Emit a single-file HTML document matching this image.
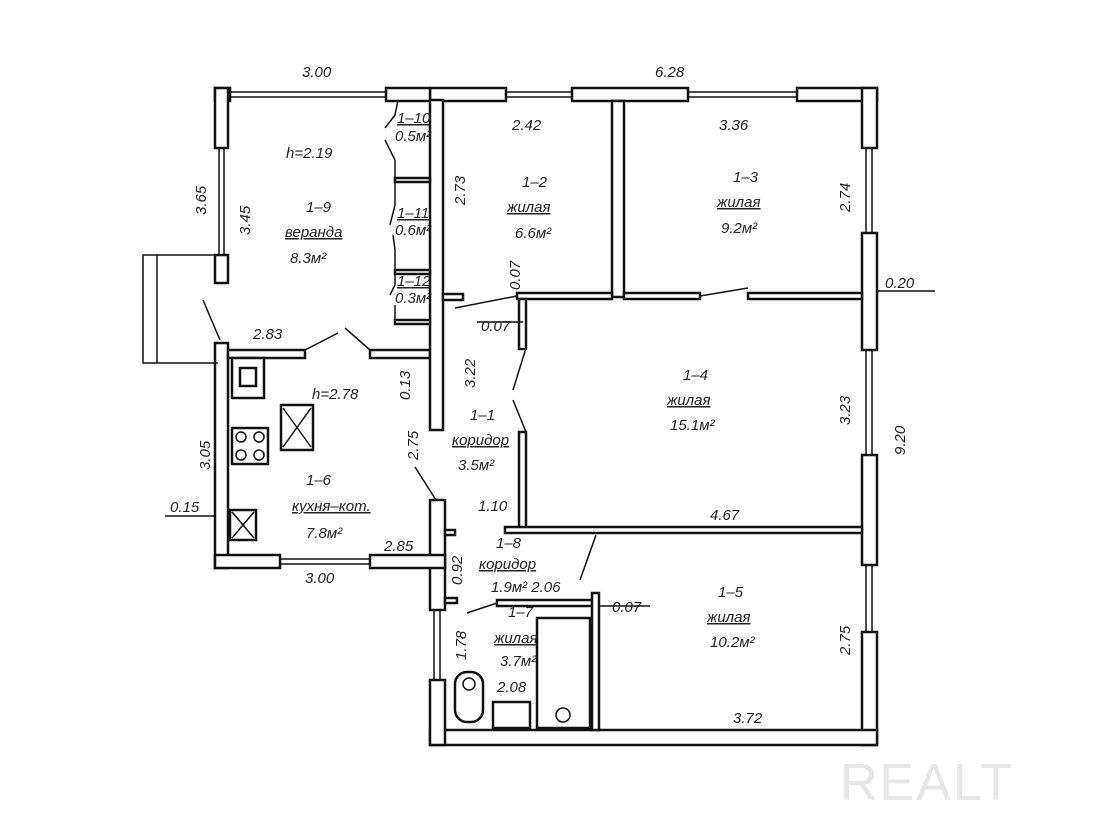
<!DOCTYPE html>
<html><head><meta charset="utf-8"><style>
html,body{margin:0;padding:0;background:#fff;width:1100px;height:825px;overflow:hidden}
svg text{font-family:"Liberation Sans","DejaVu Sans",sans-serif;font-style:italic;font-size:15px;fill:#222}
</style></head><body>
<svg width="1100" height="825" viewBox="0 0 1100 825" xmlns="http://www.w3.org/2000/svg">
<g fill="#fff" stroke="#111" stroke-width="2.5">
<rect x="430" y="88" width="76" height="13"/>
<rect x="572" y="88" width="116" height="13"/>
<rect x="797" y="88" width="80" height="13"/>
<rect x="386" y="88" width="44" height="13"/>
<rect x="215" y="88" width="15" height="13"/>
<rect x="862" y="88" width="15" height="60"/>
<rect x="862" y="233" width="15" height="117"/>
<rect x="862" y="455" width="15" height="110"/>
<rect x="862" y="632" width="15" height="113"/>
<rect x="430" y="730" width="447" height="15"/>
<rect x="430" y="500" width="15" height="110"/>
<rect x="430" y="680" width="15" height="65"/>
<rect x="215" y="88" width="13" height="60"/>
<rect x="215" y="255" width="13" height="28"/>
<rect x="215" y="343" width="13" height="225"/>
<rect x="215" y="555" width="65" height="13"/>
<rect x="370" y="555" width="75" height="13"/>
<rect x="228" y="350" width="77" height="8"/>
<rect x="370" y="350" width="60" height="8"/>
<rect x="430" y="100" width="13" height="330"/>
<rect x="612" y="101" width="12" height="196"/>
<rect x="517" y="293" width="95" height="6"/>
<rect x="624" y="293" width="76" height="6"/>
<rect x="748" y="293" width="114" height="6"/>
<rect x="443" y="294" width="20" height="6"/>
<rect x="519" y="299" width="7" height="50"/>
<rect x="519" y="432" width="7" height="98"/>
<rect x="505" y="527" width="357" height="6"/>
<rect x="445" y="530" width="10" height="5"/>
<rect x="445" y="598" width="12" height="5"/>
<rect x="497" y="600" width="95" height="6"/>
<rect x="592" y="593" width="7" height="137"/>
<rect x="537" y="618" width="53" height="110"/>
<rect x="455" y="672" width="28" height="50" rx="12"/>
<rect x="493" y="702" width="37" height="26"/>
<rect x="395" y="178" width="35" height="4"/>
<rect x="395" y="270" width="35" height="4"/>
<rect x="395" y="320" width="35" height="4"/>
<rect x="232" y="358" width="32" height="40"/>
<rect x="240" y="368" width="16" height="18"/>
<rect x="281" y="405" width="32" height="45"/>
<rect x="232" y="428" width="36" height="36"/>
<rect x="230" y="510" width="26" height="30"/>
</g>
<g stroke="#111" stroke-width="1.5" fill="none">
<line x1="230" y1="92" x2="386" y2="92"/><line x1="230" y1="97" x2="386" y2="97"/>
<line x1="506" y1="92" x2="572" y2="92"/><line x1="506" y1="97" x2="572" y2="97"/>
<line x1="688" y1="92" x2="797" y2="92"/><line x1="688" y1="97" x2="797" y2="97"/>
<line x1="219" y1="148" x2="219" y2="255"/><line x1="224" y1="148" x2="224" y2="255"/>
<line x1="866" y1="148" x2="866" y2="233"/><line x1="872" y1="148" x2="872" y2="233"/>
<line x1="866" y1="350" x2="866" y2="455"/><line x1="872" y1="350" x2="872" y2="455"/>
<line x1="866" y1="565" x2="866" y2="632"/><line x1="872" y1="565" x2="872" y2="632"/>
<line x1="434" y1="610" x2="434" y2="680"/><line x1="440" y1="610" x2="440" y2="680"/>
<line x1="280" y1="559" x2="370" y2="559"/><line x1="280" y1="564" x2="370" y2="564"/>
<polyline points="218,255 143,255 143,363 218,363"/><line x1="157" y1="255" x2="157" y2="363"/>
<line x1="203" y1="300" x2="220" y2="340"/>
<line x1="305" y1="350" x2="338" y2="333"/><line x1="345" y1="328" x2="370" y2="350"/>
<line x1="455" y1="308" x2="517" y2="296"/><line x1="700" y1="296" x2="748" y2="288"/>
<line x1="526" y1="348" x2="513" y2="390"/><line x1="513" y1="400" x2="526" y2="432"/>
<line x1="415" y1="467" x2="436" y2="500"/>
<line x1="580" y1="580" x2="596" y2="535"/>
<line x1="467" y1="613" x2="497" y2="603"/>
<polyline points="398,100 395,115 385,128"/><polyline points="385,140 395,160 395,178"/>
<polyline points="395,182 395,205 390,225"/><polyline points="393,235 395,250 395,270"/>
<polyline points="395,274 395,285 390,295"/><polyline points="395,305 395,320"/>
<line x1="283" y1="408" x2="311" y2="447"/><line x1="311" y1="408" x2="283" y2="447"/>
<line x1="232" y1="512" x2="254" y2="538"/><line x1="254" y1="512" x2="232" y2="538"/>
<circle cx="469" cy="684" r="6"/><circle cx="563" cy="715" r="7"/>
<circle cx="241" cy="437" r="5"/><circle cx="259" cy="437" r="5"/><circle cx="241" cy="455" r="5"/><circle cx="259" cy="455" r="5"/>
<line x1="876" y1="291" x2="935" y2="291"/><line x1="165" y1="516" x2="215" y2="516"/>
<line x1="477" y1="322" x2="523" y2="322"/><line x1="598" y1="606" x2="650" y2="606"/>
</g>
<g>
<text x="302" y="77">3.00</text><text x="655" y="77">6.28</text>
<text x="286" y="158">h=2.19</text>
<text x="306" y="212">1–9</text><text x="285" y="237" text-decoration="underline">веранда</text><text x="290" y="263">8.3м²</text>
<text x="397" y="123" font-size="12" text-decoration="underline">1–10</text><text x="395" y="141" font-size="12">0.5м²</text>
<text x="397" y="218" font-size="12" text-decoration="underline">1–11</text><text x="395" y="235" font-size="12">0.6м²</text>
<text x="397" y="286" font-size="12" text-decoration="underline">1–12</text><text x="395" y="303" font-size="12">0.3м²</text>
<text x="512" y="130">2.42</text><text x="719" y="130">3.36</text>
<text x="522" y="187">1–2</text><text x="507" y="212" text-decoration="underline">жилая</text><text x="515" y="238">6.6м²</text>
<text x="733" y="182">1–3</text><text x="717" y="207" text-decoration="underline">жилая</text><text x="721" y="233">9.2м²</text>
<text x="481" y="331">0.07</text><text x="885" y="288">0.20</text>
<text x="683" y="380">1–4</text><text x="667" y="405" text-decoration="underline">жилая</text><text x="670" y="430">15.1м²</text>
<text x="253" y="339">2.83</text><text x="312" y="399">h=2.78</text>
<text x="470" y="420">1–1</text><text x="452" y="445" text-decoration="underline">коридор</text><text x="458" y="470">3.5м²</text>
<text x="478" y="511">1.10</text><text x="710" y="520">4.67</text>
<text x="306" y="485">1–6</text><text x="292" y="511" text-decoration="underline">кухня–кот.</text><text x="306" y="538">7.8м²</text>
<text x="170" y="512">0.15</text><text x="384" y="551">2.85</text><text x="305" y="583">3.00</text>
<text x="496" y="548">1–8</text><text x="479" y="569" text-decoration="underline">коридор</text><text x="491" y="592">1.9м² 2.06</text>
<text x="508" y="617">1–7</text><text x="494" y="643" text-decoration="underline">жилая</text><text x="500" y="666">3.7м²</text><text x="497" y="692">2.08</text>
<text x="612" y="612">0.07</text>
<text x="718" y="597">1–5</text><text x="707" y="622" text-decoration="underline">жилая</text><text x="710" y="647">10.2м²</text>
<text x="733" y="723">3.72</text>
<g font-size="15">
<text transform="translate(206,215) rotate(-90)">3.65</text>
<text transform="translate(250,235) rotate(-90)">3.45</text>
<text transform="translate(465,205) rotate(-90)">2.73</text>
<text transform="translate(850,212) rotate(-90)">2.74</text>
<text transform="translate(520,290) rotate(-90)">0.07</text>
<text transform="translate(475,388) rotate(-90)">3.22</text>
<text transform="translate(410,400) rotate(-90)">0.13</text>
<text transform="translate(850,425) rotate(-90)">3.23</text>
<text transform="translate(905,455) rotate(-90)">9.20</text>
<text transform="translate(418,460) rotate(-90)">2.75</text>
<text transform="translate(210,470) rotate(-90)">3.05</text>
<text transform="translate(462,585) rotate(-90)">0.92</text>
<text transform="translate(466,660) rotate(-90)">1.78</text>
<text transform="translate(850,655) rotate(-90)">2.75</text>
</g>
<text x="840" y="800" style="font-style:normal;font-size:52px;fill:#e6e6e6;letter-spacing:2px">REALT</text>
</g>
</svg>
</body></html>
